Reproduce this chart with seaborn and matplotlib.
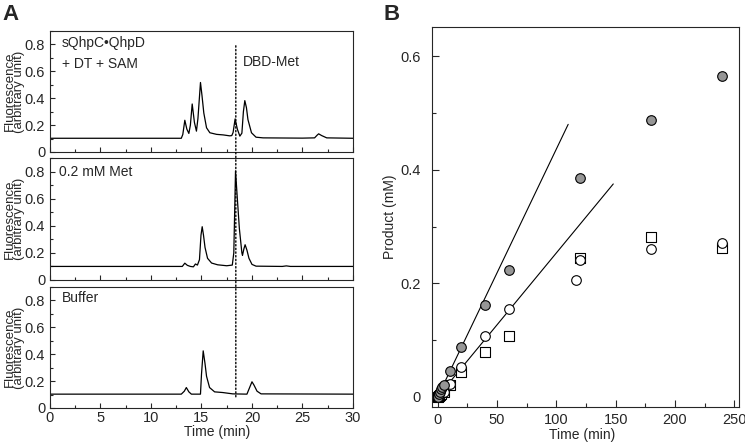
import matplotlib
matplotlib.use("Agg")
import matplotlib.pyplot as plt
import seaborn as sns
from matplotlib.patches import ConnectionPatch
from matplotlib.ticker import MultipleLocator, FuncFormatter

# ---- panel A: HPLC traces (time in min, fluorescence) ----
t_sam = [0, 13.0, 13.15, 13.35, 13.55, 13.75, 13.9, 14.08, 14.3, 14.5, 14.65, 14.9,
         15.05, 15.23, 15.5, 15.83, 16.5, 17.15, 17.8, 18.0, 18.13, 18.33, 18.55,
         18.8, 19.0, 19.15, 19.29, 19.45, 19.6, 19.95, 20.4, 21.1, 25.0, 26.2,
         26.45, 26.6, 26.9, 27.4, 30]
f_sam = [0.102, 0.102, 0.13, 0.236, 0.17, 0.138, 0.2, 0.357, 0.22, 0.155, 0.25, 0.517,
         0.42, 0.29, 0.18, 0.143, 0.131, 0.127, 0.12, 0.122, 0.145, 0.246, 0.17,
         0.118, 0.14, 0.3, 0.382, 0.33, 0.241, 0.143, 0.11, 0.105, 0.103, 0.105,
         0.125, 0.135, 0.122, 0.105, 0.102]

t_met = [0, 13.1, 13.35, 13.6, 13.9, 14.2, 14.4, 14.6, 14.8, 14.95, 15.07, 15.2,
         15.35, 15.6, 16.0, 16.6, 17.5, 18.05, 18.2, 18.37, 18.55, 18.75, 19.0,
         19.06, 19.2, 19.32, 19.5, 19.7, 20.0, 20.4, 23.0, 23.4, 23.8, 30]
f_met = [0.1, 0.1, 0.124, 0.108, 0.1, 0.097, 0.118, 0.11, 0.15, 0.33, 0.393, 0.33,
         0.24, 0.16, 0.125, 0.112, 0.105, 0.11, 0.2, 0.804, 0.6, 0.38, 0.2,
         0.182, 0.23, 0.26, 0.22, 0.16, 0.115, 0.102, 0.1, 0.104, 0.1, 0.1]

t_buf = [0, 13.0, 13.3, 13.5, 13.75, 14.0, 14.9, 15.0, 15.17, 15.35, 15.5, 15.8,
         16.3, 17.1, 18.1, 19.5, 19.7, 20.0, 20.2, 20.5, 20.9, 30]
f_buf = [0.103, 0.103, 0.125, 0.152, 0.12, 0.103, 0.103, 0.25, 0.425, 0.33, 0.236, 0.152,
         0.12, 0.115, 0.105, 0.103, 0.14, 0.195, 0.17, 0.125, 0.105, 0.103]

dbd_met_time = 18.4

# ---- panel B: product formation (time in min, mM) ----
t_gray = [0, 1, 2, 3, 4, 5, 10, 20, 40, 60, 120, 180, 240]
p_gray = [0, 0.005, 0.009, 0.013, 0.017, 0.021, 0.046, 0.088, 0.161, 0.223, 0.386, 0.488, 0.565]

t_open = [0, 1, 2, 3, 5, 10, 20, 40, 60, 117, 120, 180, 240]
p_open = [0, 0.002, 0.004, 0.006, 0.009, 0.022, 0.053, 0.107, 0.154, 0.205, 0.241, 0.261, 0.271]

t_sq = [0, 1, 2, 3, 5, 10, 20, 40, 60, 120, 180, 240]
p_sq = [0, 0.002, 0.003, 0.005, 0.008, 0.02, 0.044, 0.079, 0.107, 0.245, 0.281, 0.263]

fit1_t = [0, 110]
fit1_p = [0, 0.48]
fit2_t = [0, 148]
fit2_p = [0, 0.375]

sns.set_style("ticks")
plt.rcParams["font.family"] = ["Liberation Sans", "DejaVu Sans"]
plt.rcParams["font.size"] = 10

fmt = FuncFormatter(lambda v, p: "0" if abs(v) < 1e-9 else f"{v:g}")

fig = plt.figure(figsize=(7.45, 4.44), dpi=100)
axes_a = [fig.add_axes([0.0671, 0.6577, 0.4067, 0.2725]),
          fig.add_axes([0.0671, 0.3694, 0.4067, 0.2748]),
          fig.add_axes([0.0671, 0.0811, 0.4067, 0.2725])]

traces = [(t_sam, f_sam), (t_met, f_met), (t_buf, f_buf)]
for i, (ax, (tt, ff)) in enumerate(zip(axes_a, traces)):
    sns.lineplot(x=tt, y=ff, ax=ax, color="black", lw=0.9, estimator=None, sort=False)
    ax.set_xlim(0, 30)
    ax.set_ylim(0, 0.9)
    ax.xaxis.set_major_locator(MultipleLocator(5))
    ax.xaxis.set_minor_locator(MultipleLocator(2.5))
    ax.yaxis.set_major_locator(MultipleLocator(0.2))
    ax.yaxis.set_minor_locator(MultipleLocator(0.1))
    ax.xaxis.set_major_formatter(fmt)
    ax.yaxis.set_major_formatter(fmt)
    ax.tick_params(which="major", direction="in", length=3.5, width=0.8, labelsize=10.5)
    ax.tick_params(which="minor", direction="in", length=2, width=0.8)
    ax.tick_params(axis="y", pad=3.5)
    ax.tick_params(axis="x", pad=2)
    for s in ax.spines.values():
        s.set_linewidth(0.8)
    ax.set_ylabel("Fluorescence\n(arbitrary unit)", fontsize=9.5, linespacing=0.62)
    ax.yaxis.set_label_coords(-0.083, 0.5)
    if i < 2:
        ax.tick_params(axis="x", labelbottom=False)
        ax.set_xlabel("")

axes_a[2].set_xlabel("Time (min)", fontsize=10)
axes_a[2].xaxis.set_label_coords(0.55, -0.14)

axes_a[0].text(0.04, 0.90, "sQhpC\u2022QhpD", transform=axes_a[0].transAxes, va="center", fontsize=10)
axes_a[0].text(0.04, 0.73, "+ DT + SAM", transform=axes_a[0].transAxes, va="center", fontsize=10)
axes_a[0].text(0.638, 0.744, "DBD-Met", transform=axes_a[0].transAxes, va="center", fontsize=10)
axes_a[1].text(0.031, 0.888, "0.2 mM Met", transform=axes_a[1].transAxes, va="center", fontsize=10)
axes_a[2].text(0.039, 0.907, "Buffer", transform=axes_a[2].transAxes, va="center", fontsize=10)

con = ConnectionPatch(xyA=(dbd_met_time, 0.79), coordsA=axes_a[0].transData,
                      xyB=(dbd_met_time, 0.067), coordsB=axes_a[2].transData,
                      linestyle=":", color="black", lw=1.0)
fig.add_artist(con)

# ---- panel B ----
axb = fig.add_axes([0.5795, 0.0833, 0.4125, 0.8565])
sns.lineplot(x=fit1_t, y=fit1_p, ax=axb, color="black", lw=0.8, estimator=None)
sns.lineplot(x=fit2_t, y=fit2_p, ax=axb, color="black", lw=0.8, estimator=None)
sns.scatterplot(x=t_sq, y=p_sq, ax=axb, marker="s", s=42, color="white",
                edgecolor="black", linewidth=0.8, zorder=3)
sns.scatterplot(x=t_open, y=p_open, ax=axb, marker="o", s=48, color="white",
                edgecolor="black", linewidth=0.8, zorder=4)
sns.scatterplot(x=t_gray, y=p_gray, ax=axb, marker="o", s=48, color="#969696",
                edgecolor="black", linewidth=0.8, zorder=5)
axb.set_xlim(-5, 254)
axb.set_ylim(-0.018, 0.652)
axb.xaxis.set_major_locator(MultipleLocator(50))
axb.xaxis.set_minor_locator(MultipleLocator(25))
axb.yaxis.set_major_locator(MultipleLocator(0.2))
axb.yaxis.set_minor_locator(MultipleLocator(0.1))
axb.xaxis.set_major_formatter(fmt)
axb.yaxis.set_major_formatter(fmt)
axb.tick_params(which="major", direction="in", length=5, width=0.8, labelsize=10.5)
axb.tick_params(which="minor", direction="in", length=3, width=0.8)
axb.tick_params(axis="y", pad=8)
axb.tick_params(axis="x", pad=4)
for s in axb.spines.values():
    s.set_linewidth(0.8)
axb.set_xlabel("Time (min)", fontsize=10)
axb.xaxis.set_label_coords(0.49, -0.055)
axb.set_ylabel("Product (mM)", fontsize=10)
axb.yaxis.set_label_coords(-0.114, 0.5)

fig.text(0.003, 0.992, "A", fontsize=16, fontweight="bold", va="top", ha="left")
fig.text(0.515, 0.992, "B", fontsize=16, fontweight="bold", va="top", ha="left")

fig.savefig("out.png", dpi=100)
